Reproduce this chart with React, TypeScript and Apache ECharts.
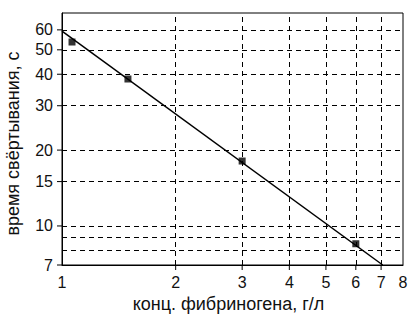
import React, { useEffect, useRef } from "react";
import * as echarts from "echarts";

const xTickValues = [1, 2, 3, 4, 5, 6, 7, 8];
const yTickValues = [7, 10, 15, 20, 30, 40, 50, 60];
const xGridValues = [2, 3, 4, 5, 6, 7];
const yGridValues = [8, 9, 10, 15, 20, 30, 40, 50, 60];
const pointsX = [1.063, 1.495, 3.0, 6.0];
const pointsY = [53.7, 38.3, 18.1, 8.5];
const fitX = [1.0, 7.07];
const fitY = [59.3, 7.0];

const X_MIN = 1;
const X_MAX = 8;
const Y_MIN = 7;
const Y_MAX = 70;

const FONT = "'Liberation Sans', Arial, sans-serif";

export default function App() {
  const ref = useRef<HTMLDivElement>(null);
  useEffect(() => {
    if (!ref.current) return;
    const chart = echarts.init(ref.current, undefined, { renderer: "svg" });
    const dash = { type: [5, 4], color: "#000", width: 1 };
    const tickSeries = (data: number[][], horizontal: boolean) => ({
      type: "custom",
      silent: true,
      clip: false,
      z: 5,
      data,
      renderItem: (_params: any, api: any) => {
        const p = api.coord([api.value(0), api.value(1)]);
        const shape = horizontal
          ? { x1: p[0] - 5, y1: p[1], x2: p[0], y2: p[1] }
          : { x1: p[0], y1: p[1], x2: p[0], y2: p[1] + 5 };
        return { type: "line", shape, style: { stroke: "#000", lineWidth: 1 } };
      },
    });
    chart.setOption({
      animation: false,
      backgroundColor: "#fff",
      textStyle: { fontFamily: FONT },
      grid: {
        left: 62,
        right: 6,
        top: 13,
        bottom: 49,
        show: true,
        borderColor: "#000",
        borderWidth: 1,
        containLabel: false,
        outerBoundsMode: "none",
      },
      xAxis: {
        type: "log",
        logBase: 10,
        min: X_MIN,
        max: X_MAX,
        name: "конц. фибриногена, г/л",
        nameLocation: "middle",
        nameGap: 29,
        nameTextStyle: { color: "#111", fontSize: 18, fontFamily: FONT, padding: [0, 8, 0, 0] },
        axisLine: { onZero: false, lineStyle: { color: "#000", width: 1 } },
        axisTick: { show: false },
        axisLabel: {
          customValues: xTickValues,
          color: "#111",
          fontSize: 16,
          fontFamily: FONT,
          margin: 9,
          formatter: (v: number) => String(Math.round(v)),
        },
        splitLine: { show: false },
        minorTick: { show: false },
      },
      yAxis: {
        type: "log",
        logBase: 10,
        min: Y_MIN,
        max: Y_MAX,
        name: "время свёртывания, с",
        nameLocation: "middle",
        nameGap: 40,
        nameTextStyle: { color: "#111", fontSize: 18, fontFamily: FONT, padding: [0, 9, 0, 0] },
        axisLine: { onZero: false, lineStyle: { color: "#000", width: 1 } },
        axisTick: { show: false },
        axisLabel: {
          customValues: yTickValues,
          color: "#111",
          fontSize: 16,
          fontFamily: FONT,
          margin: 9,
          formatter: (v: number) => String(Math.round(v)),
        },
        splitLine: { show: false },
        minorTick: { show: false },
      },
      series: [
        {
          type: "line",
          data: fitX.map((x, i) => [x, fitY[i]]),
          showSymbol: false,
          lineStyle: { color: "#000", width: 1.5 },
          silent: true,
          markLine: {
            silent: true,
            symbol: ["none", "none"],
            label: { show: false },
            lineStyle: dash,
            emphasis: { disabled: true },
            data: [
              ...xGridValues.map((v) => ({ xAxis: v })),
              ...yGridValues.map((v) => ({ yAxis: v })),
            ],
          },
          z: 3,
        },
        {
          type: "scatter",
          data: pointsX.map((x, i) => [x, pointsY[i]]),
          symbol: "rect",
          symbolSize: 7,
          itemStyle: { color: "#000" },
          z: 4,
        },
        tickSeries(yTickValues.map((v) => [X_MIN, v]), true),
        tickSeries(xGridValues.map((v) => [v, Y_MIN]), false),
      ],
    });
    return () => chart.dispose();
  }, []);
  return <div ref={ref} style={{ width: 409, height: 314, position: "absolute", left: 0, top: 0 }} />;
}
